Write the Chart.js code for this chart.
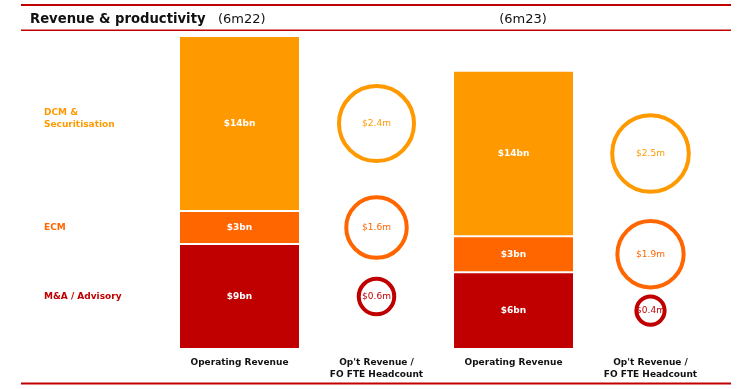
<!DOCTYPE html>
<html>
<head>
<meta charset="utf-8">
<script src="https://cdn.jsdelivr.net/npm/chart.js@4/dist/chart.umd.min.js"></script>
<style>
  html, body { margin: 0; padding: 0; background: #fff; }
  canvas { display: block; }
</style>
</head>
<body>
<canvas id="revenueChart" width="753" height="389"></canvas>
<script>
// Períodos e colunas do gráfico
const periods = ['6m22', '6m23'];
const columnKeys = ['6m22 revenue', '6m22 productivity', '6m23 revenue', '6m23 productivity'];
const tickLabels = [
    'Operating Revenue',
    ["Op't Revenue /", 'FO FTE Headcount'],
    'Operating Revenue',
    ["Op't Revenue /", 'FO FTE Headcount']
];

// Receita operacional por segmento ($bn)
const mnaRevenue = [8.75, 6.4];
const ecmRevenue = [2.75, 3.0];
const dcmRevenue = [14.6, 13.8];
const mnaRevenueLabels = ['$9bn', '$6bn'];
const ecmRevenueLabels = ['$3bn', '$3bn'];
const dcmRevenueLabels = ['$14bn', '$14bn'];

// Receita / headcount FO FTE ($m)
const mnaProductivity = [0.6, 0.4];
const ecmProductivity = [1.6, 1.9];
const dcmProductivity = [2.4, 2.5];

const yMax = 26.1;
const fontFamily = "'DejaVu Sans', Verdana, sans-serif";

// Segmentos de baixo para cima
const segments = [
    { name: ['M&A / Advisory'], color: '#C00000', revenue: mnaRevenue, labels: mnaRevenueLabels, productivity: mnaProductivity },
    { name: ['ECM'], color: '#FF6600', revenue: ecmRevenue, labels: ecmRevenueLabels, productivity: ecmProductivity },
    { name: ['DCM &', 'Securitisation'], color: '#FF9900', revenue: dcmRevenue, labels: dcmRevenueLabels, productivity: dcmProductivity }
];

// Raio do círculo proporcional à raiz do valor (área ~ valor)
function bubbleRadius(value) {
    return 25.5 * Math.sqrt(value) - 2;
}

// Ponto médio de cada segmento na pilha
function segmentMiddle(segIndex, periodIndex) {
    let base = 0;
    for (let s = 0; s < segIndex; s++) base += segments[s].revenue[periodIndex];
    return base + segments[segIndex].revenue[periodIndex] / 2;
}

const barDatasets = segments.map(seg => ({
    type: 'bar',
    label: seg.name.join(' '),
    data: periods.flatMap((p, i) => [seg.revenue[i], null]),
    backgroundColor: seg.color,
    borderColor: 'rgba(255,255,255,0.75)',
    borderWidth: 1,
    borderSkipped: false,
    barPercentage: 0.883,
    categoryPercentage: 1.0,
    yAxisID: 'y',
    order: 2
}));

const bubbleDatasets = segments.map((seg, s) => ({
    type: 'bubble',
    label: seg.name.join(' ') + ' productivity',
    data: periods.map((p, i) => ({
        x: columnKeys[i * 2 + 1],
        y: segmentMiddle(s, i),
        r: bubbleRadius(seg.productivity[i])
    })),
    backgroundColor: 'rgba(255,255,255,0)',
    borderColor: seg.color,
    borderWidth: 4,
    clip: false,
    yAxisID: 'y2',
    order: 1
}));

// Plugin para cabeçalho, linhas e rótulos
const decorPlugin = {
    id: 'decor',
    beforeDraw(chart) {
        const ctx = chart.ctx;
        ctx.save();
        ctx.fillStyle = '#fff';
        ctx.fillRect(0, 0, chart.width, chart.height);
        ctx.fillStyle = '#C00000';
        ctx.fillRect(21, 4, 710, 2);
        ctx.fillRect(21, 29.5, 710, 1.5);
        ctx.fillRect(21, 382.5, 710, 2);

        ctx.textBaseline = 'alphabetic';
        ctx.textAlign = 'left';
        ctx.fillStyle = '#111';
        ctx.font = 'bold 13.2px ' + fontFamily;
        ctx.fillText('Revenue & productivity', 30, 22.5);
        ctx.font = '13px ' + fontFamily;
        ctx.fillText('(' + periods[0] + ')', 218, 22.5);
        ctx.textAlign = 'center';
        ctx.fillText('(' + periods[1] + ')', 523, 22.5);
        ctx.restore();
    },
    afterDatasetsDraw(chart) {
        const ctx = chart.ctx;
        ctx.save();
        ctx.textBaseline = 'middle';
        segments.forEach((seg, s) => {
            const barMeta = chart.getDatasetMeta(s);
            const bubbleMeta = chart.getDatasetMeta(segments.length + s);
            periods.forEach((p, i) => {
                const bar = barMeta.data[i * 2];
                const midY = (bar.y + bar.base) / 2;
                ctx.textAlign = 'center';
                ctx.fillStyle = '#fff';
                ctx.font = 'bold 9px ' + fontFamily;
                ctx.fillText(seg.labels[i], bar.x, midY);

                const bubble = bubbleMeta.data[i];
                ctx.fillStyle = seg.color;
                ctx.font = '9px ' + fontFamily;
                ctx.fillText('$' + seg.productivity[i].toFixed(1) + 'm', bubble.x, bubble.y);

                // Nome do segmento à esquerda, alinhado ao primeiro período
                if (i === 0) {
                    ctx.textAlign = 'left';
                    ctx.font = 'bold 9px ' + fontFamily;
                    const lineH = 12;
                    const startY = midY - (seg.name.length - 1) * lineH / 2 - (seg.name.length > 1 ? 5 : 0);
                    seg.name.forEach((line, l) => ctx.fillText(line, 44, startY + l * lineH));
                }
            });
        });
        ctx.restore();
    }
};

new Chart(document.getElementById('revenueChart'), {
    data: {
        labels: columnKeys,
        datasets: [...barDatasets, ...bubbleDatasets]
    },
    options: {
        responsive: false,
        animation: false,
        devicePixelRatio: 1,
        layout: {
            autoPadding: false,
            padding: { left: 171, right: 34, top: 36, bottom: 0 }
        },
        plugins: {
            legend: { display: false },
            tooltip: { enabled: false }
        },
        scales: {
            x: {
                type: 'category',
                stacked: true,
                offset: true,
                grid: { display: false, drawTicks: false },
                border: { display: false },
                ticks: {
                    padding: 8,
                    color: '#111',
                    font: { family: fontFamily, size: 9, weight: 'bold', lineHeight: 1.3 },
                    maxRotation: 0,
                    autoSkip: false,
                    callback: (value, index) => tickLabels[index]
                },
                afterFit: scale => { scale.height = 40; }
            },
            y: {
                stacked: true,
                display: false,
                min: 0,
                max: yMax
            },
            y2: {
                stacked: false,
                display: false,
                min: 0,
                max: yMax
            }
        }
    },
    plugins: [decorPlugin]
});
</script>
</body>
</html>
